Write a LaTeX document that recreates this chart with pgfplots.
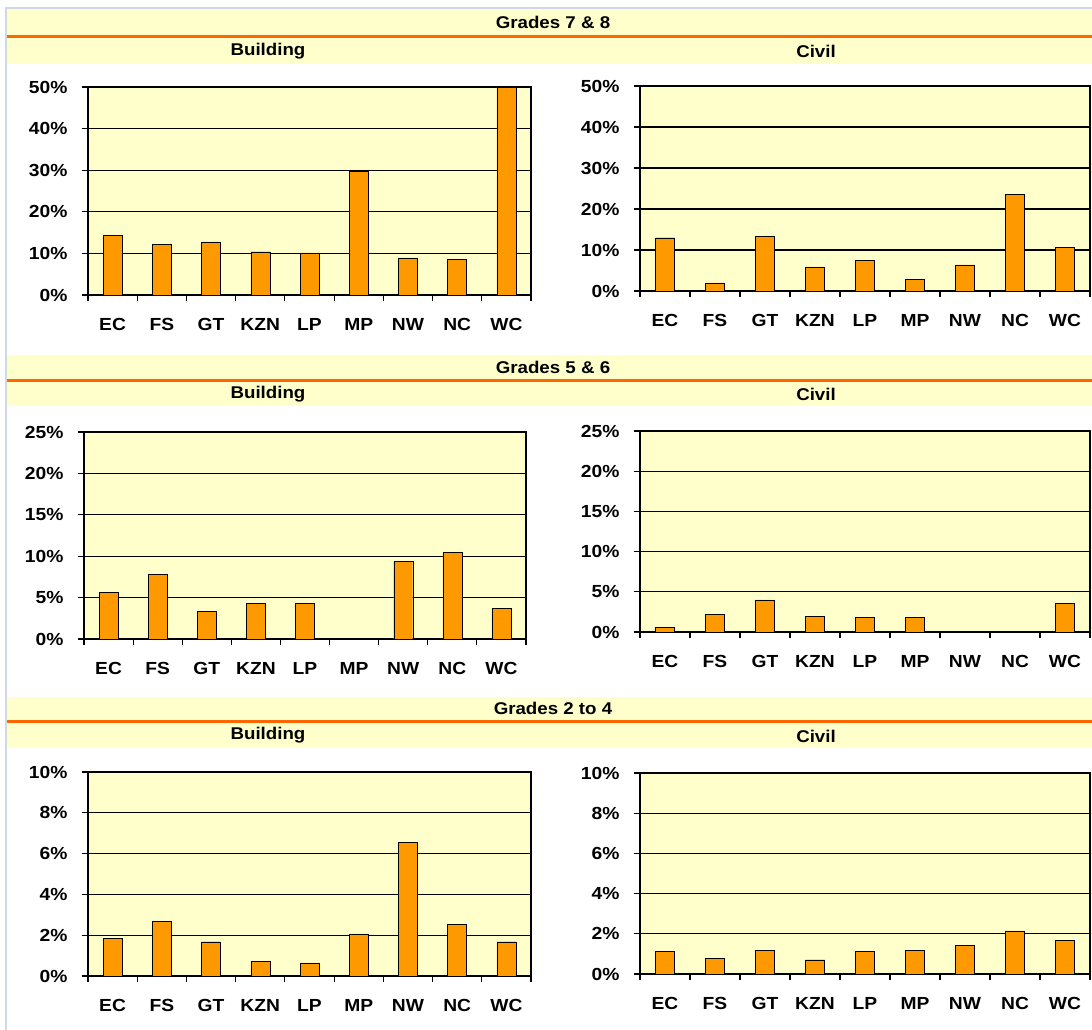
\documentclass[border=0pt]{standalone}
\usepackage{fontspec}
\setmainfont{Liberation Sans}[FakeStretch=1.1]
\usepackage{pgfplots}
\pgfplotsset{compat=1.18}
\definecolor{bandyel}{HTML}{FFFFCC}
\definecolor{orln}{HTML}{FF6600}
\definecolor{barc}{HTML}{FF9900}
\definecolor{brd}{HTML}{D0D8E4}

\pgfplotsset{panel/.style={
  scale only axis, anchor=south west,
  axis background/.style={fill=bandyel},
  xmin=0.5,xmax=9.5,ymin=0,
  ybar, bar width=19pt, bar shift=0pt,
  axis line style={black,line width=1.1pt},
  ymajorgrids, grid style={black,line width=1.1pt},
  xtick={0.5,1.5,...,9.5}, xticklabels={},
  extra x ticks={1,2,...,9},
  extra x tick labels={EC,FS,GT,KZN,LP,MP,NW,NC,WC},
  extra x tick style={major tick length=0pt, grid=none},
  tick align=outside, major tick length=6pt,
  tick style={black,line width=1.1pt},
  xtick pos=bottom, ytick pos=left,
  ticklabel style={font=\fontsize{17.5}{20}\selectfont\bfseries, text=black},
  xticklabel style={yshift=-20pt},
  yticklabel style={xshift=-11pt},
  cycle list={{fill=barc, draw=black, line width=1pt}},
}}
\pgfplotsset{
  g78/.style={ymax=50, ytick={0,10,...,50}, yticklabels={0\%,10\%,20\%,30\%,40\%,50\%}},
  g56/.style={ymax=25, ytick={0,5,...,25}, yticklabels={0\%,5\%,10\%,15\%,20\%,25\%}},
  g24/.style={ymax=10, ytick={0,2,...,10}, yticklabels={0\%,2\%,4\%,6\%,8\%,10\%}},
}
\newcommand\hdr{\fontsize{17}{20}\selectfont\bfseries}

\begin{document}
\begin{tikzpicture}
\useasboundingbox (0pt,0pt) rectangle (1092pt,-1030pt);
\clip (0pt,0pt) rectangle (1092pt,-1030pt);
% border
\draw[brd, line width=1.5pt] (6pt,-1030pt) -- (6pt,-8pt) -- (1092pt,-8pt);
% header bands
\fill[bandyel] (7pt,-9pt) rectangle (1092pt,-64pt);
\fill[orln] (7pt,-35pt) rectangle (1092pt,-38pt);
\fill[bandyel] (7pt,-355pt) rectangle (1092pt,-406pt);
\fill[orln] (7pt,-379pt) rectangle (1092pt,-382pt);
\fill[bandyel] (7pt,-697pt) rectangle (1092pt,-747pt);
\fill[orln] (7pt,-720pt) rectangle (1092pt,-723pt);
\node[font=\hdr] at (553pt,-22pt) {Grades 7 \& 8};
\node[font=\hdr] at (268pt,-51pt) {Building};
\node[font=\hdr] at (816pt,-51pt) {Civil};
\node[font=\hdr] at (553pt,-367pt) {Grades 5 \& 6};
\node[font=\hdr] at (268pt,-394pt) {Building};
\node[font=\hdr] at (816pt,-394pt) {Civil};
\node[font=\hdr] at (553pt,-708pt) {Grades 2 to 4};
\node[font=\hdr] at (268pt,-735pt) {Building};
\node[font=\hdr] at (816pt,-736pt) {Civil};

% Row 1
\begin{axis}[panel, g78, at={(88pt,-295pt)}, width=443pt, height=208pt]
\addplot coordinates {(1,14.4) (2,12.1) (3,12.8) (4,10.4) (5,10.1) (6,29.8) (7,8.9) (8,8.5) (9,50)};
\end{axis}
\begin{axis}[panel, g78, at={(640pt,-291pt)}, width=450pt, height=205pt]
\addplot coordinates {(1,13.0) (2,2.0) (3,13.4) (4,5.9) (5,7.5) (6,2.85) (7,6.35) (8,23.6) (9,10.6)};
\end{axis}
% Row 2
\begin{axis}[panel, g56, at={(84pt,-639pt)}, width=442pt, height=207pt]
\addplot coordinates {(1,5.65) (2,7.85) (3,3.35) (4,4.3) (5,4.3) (7,9.35) (8,10.5) (9,3.7)};
\end{axis}
\begin{axis}[panel, g56, at={(640pt,-632pt)}, width=450pt, height=201pt]
\addplot coordinates {(1,0.58) (2,2.19) (3,4.0) (4,1.99) (5,1.78) (6,1.78) (9,3.6)};
\end{axis}
% Row 3
\begin{axis}[panel, g24, at={(88pt,-976pt)}, width=443pt, height=204pt]
\addplot coordinates {(1,1.83) (2,2.69) (3,1.68) (4,0.73) (5,0.65) (6,2.07) (7,6.56) (8,2.54) (9,1.68)};
\end{axis}
\begin{axis}[panel, g24, at={(640pt,-974pt)}, width=450pt, height=201pt]
\addplot coordinates {(1,1.13) (2,0.79) (3,1.19) (4,0.71) (5,1.13) (6,1.19) (7,1.44) (8,2.15) (9,1.69)};
\end{axis}
\end{tikzpicture}
\end{document}
